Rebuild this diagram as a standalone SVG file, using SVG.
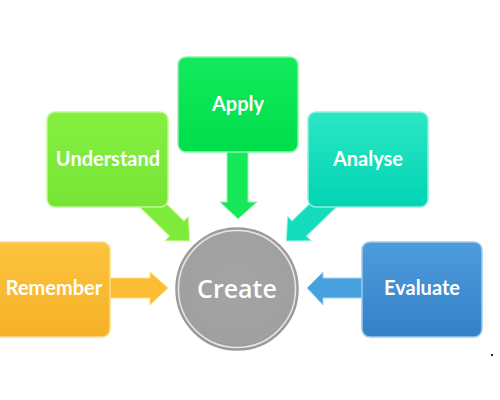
<svg xmlns="http://www.w3.org/2000/svg" width="500" height="400" viewBox="0 0 500 400">
<defs>
<linearGradient id="gOr" x1="0" y1="0" x2="0" y2="1"><stop offset="0" stop-color="#fcc33e"/><stop offset="1" stop-color="#f6b128"/></linearGradient>
<linearGradient id="gLg" x1="0" y1="0" x2="0" y2="1"><stop offset="0" stop-color="#86f040"/><stop offset="1" stop-color="#76e436"/></linearGradient>
<linearGradient id="gGr" x1="0" y1="0" x2="0" y2="1"><stop offset="0" stop-color="#12ea5c"/><stop offset="1" stop-color="#00de4c"/></linearGradient>
<linearGradient id="gTe" x1="0" y1="0" x2="0" y2="1"><stop offset="0" stop-color="#2ce6c4"/><stop offset="1" stop-color="#00d4b4"/></linearGradient>
<linearGradient id="gBl" x1="0" y1="0" x2="0" y2="1"><stop offset="0" stop-color="#4d9cdc"/><stop offset="1" stop-color="#3581c8"/></linearGradient>
<radialGradient id="gCr" cx="0.5" cy="0.45" r="0.55"><stop offset="0" stop-color="#a4a4a4"/><stop offset="0.9" stop-color="#a0a0a0"/><stop offset="1" stop-color="#959595"/></radialGradient>
</defs>
<style>
.box{stroke-width:1.5}
.lbl{font-family:Lato,"Open Sans",sans-serif;font-weight:bold;font-size:20px;fill:#ffffff;text-anchor:middle}
.arr{stroke-width:1}
</style>
<g id="connectors">
<polygon class="arr" fill="#fbbd33" stroke="#fde27a" points="105,278 150,278 150,272 168,288 150,305 150,298 105,298"/>
<polygon class="arr" fill="#48a0de" stroke="#a9d3f1" points="367,278 323,278 323,272 307,288 323,305 323,298 367,298"/>
<polygon class="arr" fill="#16e85a" stroke="#9bf5b5" points="227,148 248,148 248,202 257,202 238,219 220,202 227,202"/>
<g transform="translate(140,193) rotate(44)"><polygon class="arr" fill="#7eea3a" stroke="#d6fb9a" points="0,-10.5 51,-10.5 51,-17 69,0 51,17 51,10.5 0,10.5"/></g>
<g transform="translate(336,193) rotate(136)"><polygon class="arr" fill="#14dcbc" stroke="#9ff3e3" points="0,-10.5 51,-10.5 51,-17 69,0 51,17 51,10.5 0,10.5"/></g>
</g>
<g id="remember">
<rect class="box" x="-10" y="242" width="120" height="95" rx="8" fill="url(#gOr)" stroke="#fddc8a"/>
<text class="lbl" x="54" y="295">Remember</text>
</g>
<g id="understand">
<rect class="box" x="47" y="112" width="121" height="95" rx="8" fill="url(#gLg)" stroke="#c4f897"/>
<text class="lbl" x="108" y="166">Understand</text>
</g>
<g id="apply">
<rect class="box" x="178" y="57" width="120" height="95" rx="8" fill="url(#gGr)" stroke="#8ff2ad"/>
<text class="lbl" x="238" y="111">Apply</text>
</g>
<g id="analyse">
<rect class="box" x="308" y="112" width="120" height="95" rx="8" fill="url(#gTe)" stroke="#8ef0dd"/>
<text class="lbl" x="368" y="166">Analyse</text>
</g>
<g id="evaluate">
<rect class="box" x="362" y="242" width="120" height="95" rx="8" fill="url(#gBl)" stroke="#9ccaee"/>
<text class="lbl" x="422" y="295">Evaluate</text>
</g>
<g id="create">
<circle cx="237" cy="289" r="61" fill="url(#gCr)" stroke="#9a9a9a" stroke-width="1.5"/>
<circle cx="237" cy="289" r="58.5" fill="none" stroke="#e6e6e6" stroke-width="1.5"/>
<text x="237" y="298" font-family="'Open Sans',Lato,sans-serif" font-weight="600" font-size="25" fill="#ffffff" text-anchor="middle">Create</text>
</g>
<rect x="491" y="354" width="2" height="2" fill="#222222"/>
</svg>
